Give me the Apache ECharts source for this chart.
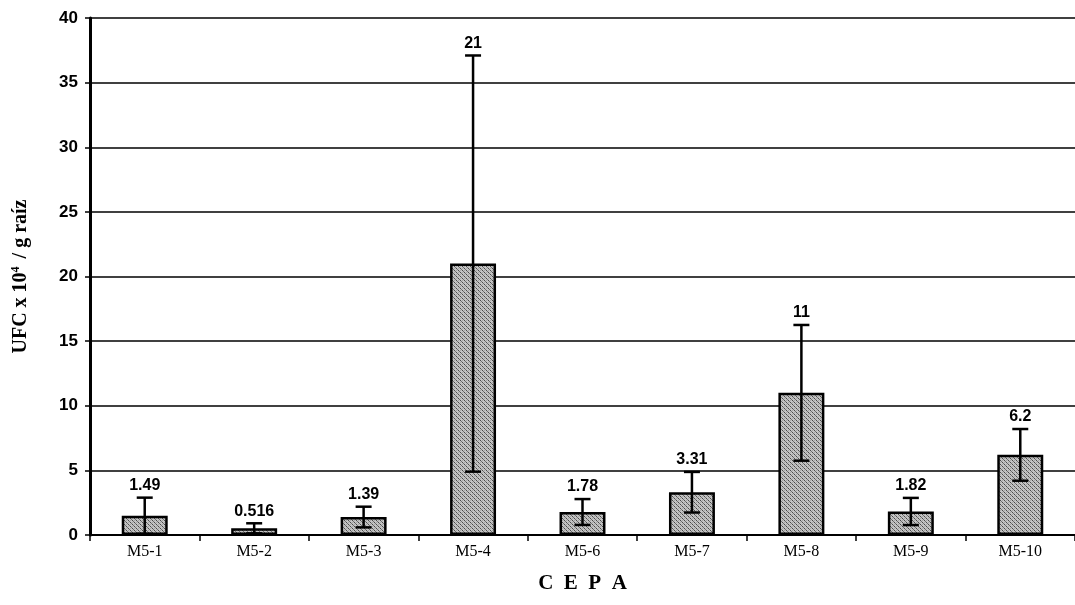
<!DOCTYPE html>
<html>
<head>
<meta charset="utf-8">
<script src="https://cdn.jsdelivr.net/npm/echarts@6/dist/echarts.min.js"></script>
<style>
  html, body { margin: 0; padding: 0; background: #fff; }
  #chart { width: 1075px; height: 605px; }
</style>
</head>
<body>
<div id="chart"></div>
<script>
// Strains and mean colony counts (UFC x 10^4 per gram of root)
const categories = ['M5-1', 'M5-2', 'M5-3', 'M5-4', 'M5-6', 'M5-7', 'M5-8', 'M5-9', 'M5-10'];
const means = [1.49, 0.516, 1.39, 21, 1.78, 3.31, 11, 1.82, 6.2];
// Error bar half-widths (± around each mean)
const errors = [1.4, 0.39, 0.8, 16.1, 1.0, 1.57, 5.25, 1.05, 2.0];
const meanLabels = ['1.49', '0.516', '1.39', '21', '1.78', '3.31', '11', '1.82', '6.2'];
const yTicks = { min: 0, max: 40, interval: 5 };

// Stippled gray fill used for the bars
function stipple() {
  const c = document.createElement('canvas');
  c.width = 4; c.height = 4;
  const g = c.getContext('2d');
  g.fillStyle = '#c4c4c4';
  g.fillRect(0, 0, 4, 4);
  g.fillStyle = '#4a4a4a';
  g.fillRect(0, 0, 1, 1);
  g.fillRect(2, 2, 1, 1);
  g.fillStyle = '#707070';
  g.fillRect(1, 1, 1, 1);
  g.fillRect(3, 3, 1, 1);
  g.fillStyle = '#a6a6a6';
  g.fillRect(2, 0, 1, 1);
  g.fillRect(0, 2, 1, 1);
  return c;
}

const errData = means.map((m, i) => [i, m - errors[i], m + errors[i], meanLabels[i]]);

const chart = echarts.init(document.getElementById('chart'), null, { renderer: 'canvas' });
chart.setOption({
  animation: false,
  backgroundColor: '#fff',
  grid: { left: 90, right: 0, top: 18, bottom: 70, containLabel: false, outerBoundsMode: 'none' },
  xAxis: {
    type: 'category',
    data: categories,
    name: 'C  E  P  A',
    nameLocation: 'middle',
    nameGap: 38,
    nameTextStyle: { fontFamily: 'Liberation Serif', fontWeight: 'bold', fontSize: 21, color: '#000' },
    axisLine: { lineStyle: { color: '#000', width: 2 } },
    axisTick: { show: true, alignWithLabel: false, length: 6, lineStyle: { color: '#000', width: 1.5 } },
    axisLabel: { fontFamily: 'Liberation Serif', fontSize: 16, color: '#000', margin: 9 }
  },
  yAxis: {
    type: 'value',
    min: yTicks.min,
    max: yTicks.max,
    interval: yTicks.interval,
    name: '{b|UFC x 10}{s|4}{b| / g raíz}',
    nameLocation: 'middle',
    nameGap: 58,
    nameRotate: 90,
    nameTextStyle: {
      rich: {
        b: { fontFamily: 'Liberation Serif', fontWeight: 'bold', fontSize: 20, color: '#000' },
        s: { fontFamily: 'Liberation Serif', fontWeight: 'bold', fontSize: 12, color: '#000', verticalAlign: 'top', padding: [0, 3, 10, 0] }
      }
    },
    axisLine: { show: true, lineStyle: { color: '#000', width: 3 } },
    axisTick: { show: true, length: 5, lineStyle: { color: '#000', width: 1.5 } },
    axisLabel: { fontFamily: 'Liberation Sans', fontWeight: 'bold', fontSize: 17, color: '#000', margin: 12 },
    splitLine: { show: true, lineStyle: { color: '#000', width: 1.6 } }
  },
  series: [
    {
      type: 'bar',
      data: means,
      barWidth: '42%',
      itemStyle: {
        color: { image: stipple(), repeat: 'repeat' },
        borderColor: '#000',
        borderWidth: 2.5
      },
      z: 2
    },
    {
      type: 'custom',
      data: errData,
      z: 3,
      renderItem: function (params, api) {
        const x = api.value(0);
        const lo = api.coord([x, api.value(1)]);
        const hi = api.coord([x, api.value(2)]);
        const cap = 8;
        const style = { stroke: '#000', lineWidth: 2.5 };
        return {
          type: 'group',
          children: [
            { type: 'line', shape: { x1: hi[0], y1: hi[1], x2: lo[0], y2: lo[1] }, style },
            { type: 'line', shape: { x1: hi[0] - cap, y1: hi[1], x2: hi[0] + cap, y2: hi[1] }, style },
            { type: 'line', shape: { x1: lo[0] - cap, y1: lo[1], x2: lo[0] + cap, y2: lo[1] }, style },
            {
              type: 'text',
              x: hi[0],
              y: hi[1] - 12,
              style: {
                text: api.value(3),
                align: 'center',
                verticalAlign: 'middle',
                fontFamily: 'Liberation Sans',
                fontWeight: 'bold',
                fontSize: 16,
                fill: '#000'
              }
            }
          ]
        };
      }
    }
  ]
});
</script>
</body>
</html>
